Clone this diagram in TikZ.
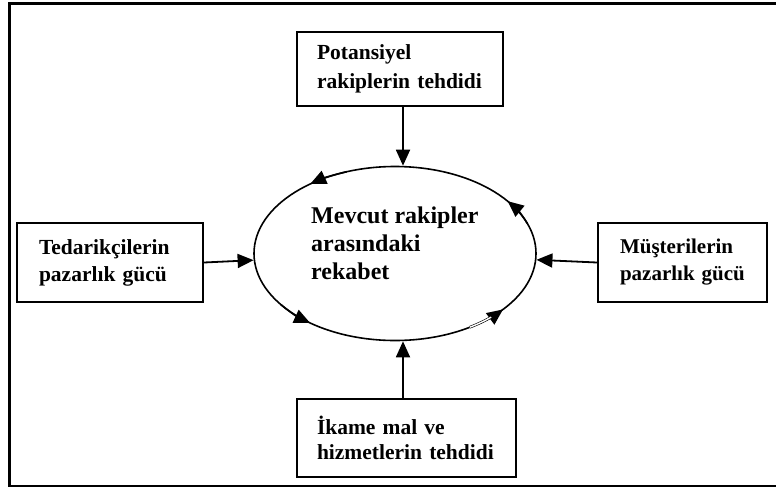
\documentclass[tikz,border=0pt]{standalone}
\usepackage{fontspec}
\setmainfont{Liberation Serif}
\usetikzlibrary{arrows.meta,shapes.geometric}
\begin{document}
\begin{tikzpicture}[x=1pt,y=-1pt,
  frame/.style={line width=2.6pt},
  box/.style={draw, line width=2pt, align=left, inner ysep=0pt, minimum height=#1,
    font=\bfseries\fontsize{21.5}{29}\selectfont},
  arr/.style={line width=1.8pt, -{Triangle[length=16pt,width=14pt]}},
  earr/.style={line width=1.6pt, -{Triangle[length=16pt,width=14pt]}},
  ellarc/.style={x radius=141, y radius=87}]
\useasboundingbox (0,0) rectangle (776,488);
\draw[frame] (9.3,3.7) rectangle (800,486);

\node[draw, ellipse, line width=1.6pt, minimum width=282pt, minimum height=174pt, inner sep=0pt] (ell) at (395,253.5) {};
\node[anchor=north west, inner sep=0pt, align=left, font=\bfseries\fontsize{24}{28}\selectfont] (mt) at (311,206.5) {Mevcut rakipler\\arasındaki\\rekabet};

\node[box=74pt, text width=166pt, inner xsep=20pt] (top) at (400,69) {\mbox{Potansiyel}\\\mbox{rakiplerin tehdidi}};
\node[box=79pt, text width=142pt, inner xsep=22pt, font=\bfseries\fontsize{21.5}{27}\selectfont] (left) at (110,262.5) {\mbox{Tedarikçilerin}\\\mbox{pazarlık gücü}};
\node[box=79pt, text width=125pt, inner xsep=22pt, font=\bfseries\fontsize{21}{27}\selectfont] (right) at (682.5,262.5) {\mbox{Müşterilerin}\\\mbox{pazarlık gücü}};
\node[box=78pt, text width=179pt, inner xsep=20pt, font=\bfseries\fontsize{21.5}{25.5}\selectfont] (bot) at (406.5,438) {\mbox{İkame mal ve}\\\mbox{hizmetlerin tehdidi}};

\draw[arr] ([xshift=3pt]top.south) -- ([xshift=3pt]top.south |- ell.north);
\draw[arr] ([xshift=-3.5pt]bot.north) -- ([xshift=-3.5pt]bot.north |- ell.south);
\draw[arr] (left.east) -- (ell);
\draw[arr] (right.west) -- (ell);

\draw[earr] (ell.center) ++(-110:141 and 87) arc[start angle=-110, end angle=-127, ellarc];
\draw[earr] (ell.center) ++(-20:141 and 87) arc[start angle=-20, end angle=-37, ellarc];
\draw[earr] (ell.center) ++(-216:141 and 87) arc[start angle=-216, end angle=-233, ellarc];
\draw[earr] (ell.center) ++(-305:141 and 87) arc[start angle=-305, end angle=-320, ellarc];
\draw[line width=0.6pt, double, double distance=1.4pt] (ell.center) ++(-302:141 and 87) arc[start angle=-302, end angle=-313, ellarc];
\end{tikzpicture}
\end{document}
